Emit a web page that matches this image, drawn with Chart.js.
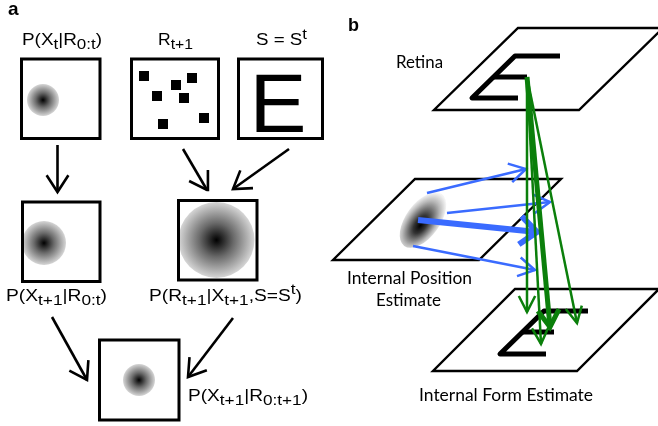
<!DOCTYPE html>
<html>
<head>
<meta charset="utf-8">
<script src="https://cdn.jsdelivr.net/npm/chart.js@4"></script>
<style>
  html, body { margin: 0; padding: 0; background: #fff; }
  #wrap { width: 658px; height: 426px; }
</style>
</head>
<body>
<div id="wrap"><canvas id="c" width="658" height="426"></canvas></div>
<script>
// ---------- Panel a: Bayesian update of the position estimate ----------
// frames as [left, top, right, bottom]
const frameBoxes = [
  [21.5, 59, 100, 138.5],
  [131.5, 59, 218.5, 138.5],
  [238.5, 59, 322.5, 138.5],
  [22.5, 202, 100, 281.5],
  [178.5, 200.5, 257, 280],
  [99.5, 340, 179, 420]
];
// probability blobs as [x, y, radius]
const blobs = [
  [43, 100, 16],
  [44, 243, 22],
  [216.5, 240, 38],
  [139, 380, 16]
];
// receptor activity pattern R(t+1)
const stimulusDots = [
  [144, 76], [176, 85], [192, 78], [157, 96], [184, 98], [204, 118], [163, 124]
];
// flow arrows as [x0, y0, x1, y1]
const flowArrows = [
  [57.5, 145, 57.5, 192],
  [183, 149, 207, 190],
  [289, 149, 233, 189],
  [52, 317, 87, 380],
  [233, 318, 188, 377]
];
const panelALabels = [
  'P(X_{t}|R_{0:t})',
  'R_{t+1}',
  'S = S^{t}',
  'P(X_{t+1}|R_{0:t})',
  'P(R_{t+1}|X_{t+1},S=S^{t})',
  'P(X_{t+1}|R_{0:t+1})'
];
const stimulusLetter = 'E';

// ---------- Panel b: retina, position estimate and form estimate ----------
const planes = [
  [[518, 28], [663, 28], [579, 110], [434, 110]],
  [[415, 179], [561, 179], [479, 260], [333, 260]],
  [[515, 289], [659, 289], [577, 371], [433, 371]]
];
const retinaE = [
  [[560, 56], [515, 56], [472, 98], [518, 98]],
  [[494, 77], [527, 77]]
];
const formE = [
  [[588, 311], [544, 311], [500, 354], [546, 354]],
  [[522, 332], [554, 332]]
];
const gazeOrigin = [527, 77];
const gazeTips = [[527, 312], [541, 344], [550, 327], [577, 323]];
const gazeWeights = [2.5, 2.5, 5, 2.5];
const positionShifts = [
  [427, 193, 526, 169],
  [447, 213, 550, 202],
  [418, 220, 537, 232],
  [413, 246, 535, 270]
];
const shiftWeights = [2.5, 2.5, 6, 2.5];
const estimateCenter = [423, 220];
const panelBLabels = ['Retina', 'Internal Position', 'Estimate', 'Internal Form Estimate'];
const panelTags = ['a', 'b'];

// ---------- helpers ----------
const pt = p => ({ x: p[0], y: p[1] });
const datasets = [];

function polyline(points, color, width, order, join) {
  datasets.push({
    data: points.map(pt),
    showLine: true,
    borderColor: color,
    borderWidth: width,
    borderJoinStyle: join || 'miter',
    borderCapStyle: 'butt',
    pointRadius: 0,
    pointHoverRadius: 0,
    fill: false,
    tension: 0,
    order: order
  });
}

function arrowHead(x0, y0, x1, y1, len, halfDeg) {
  const a = Math.atan2(y1 - y0, x1 - x0);
  const h = halfDeg * Math.PI / 180;
  return [
    [x1 - len * Math.cos(a - h), y1 - len * Math.sin(a - h)],
    [x1, y1],
    [x1 - len * Math.cos(a + h), y1 - len * Math.sin(a + h)]
  ];
}

function arrow(seg, color, width, order, len, halfDeg) {
  const [x0, y0, x1, y1] = seg;
  polyline([[x0, y0], [x1, y1]], color, width, order);
  polyline(arrowHead(x0, y0, x1, y1, len, halfDeg), color, width, order);
}

// ---------- panel a marks ----------
frameBoxes.forEach(([l, t, r, b]) =>
  polyline([[l, t], [r, t], [r, b], [l, b], [l, t], [r, t]], '#000', 3, 10));

flowArrows.forEach(s => arrow(s, '#000', 2.6, 10, 20, 33));

datasets.push({
  type: 'bubble',
  data: blobs.map(([x, y, r]) => ({ x, y, r })),
  borderWidth: 0,
  hoverRadius: 0,
  order: 12,
  backgroundColor: (c) => {
    const raw = c.raw;
    if (!raw || !c.chart.chartArea) return '#777';
    const ch = c.chart;
    const px = ch.scales.x.getPixelForValue(raw.x);
    const py = ch.scales.y.getPixelForValue(raw.y);
    if (!isFinite(px) || !isFinite(py)) return '#777';
    const g = ch.ctx.createRadialGradient(px, py, 0, px, py, raw.r);
    g.addColorStop(0, '#000');
    g.addColorStop(0.45, '#6a6a6a');
    g.addColorStop(1, '#d6d6d6');
    return g;
  }
});

datasets.push({
  data: stimulusDots.map(pt),
  showLine: false,
  pointStyle: 'rect',
  pointRadius: 7.1,
  pointHoverRadius: 7.1,
  pointBackgroundColor: '#000',
  pointBorderWidth: 0,
  order: 10
});

// ---------- panel b marks ----------
planes.forEach(p => polyline([...p, p[0], p[1]], '#000', 2.4, 50));
[...retinaE, ...formE].forEach(s => polyline(s, '#000', 5, 40, 'round'));

// fuzzy position estimate drawn as a point image
const blobCanvas = (() => {
  const cv = document.createElement('canvas');
  cv.width = 80; cv.height = 80;
  const g = cv.getContext('2d');
  g.translate(40, 40);
  g.rotate(-54 * Math.PI / 180);
  g.scale(1, 17 / 32);
  const grd = g.createRadialGradient(-6, 2, 0, -3, 0, 34);
  grd.addColorStop(0, '#000');
  grd.addColorStop(0.3, '#333');
  grd.addColorStop(0.75, '#b8b8b8');
  grd.addColorStop(1, '#f4f4f4');
  g.fillStyle = grd;
  g.beginPath();
  g.arc(0, 0, 32, 0, Math.PI * 2);
  g.fill();
  return cv;
})();

datasets.push({
  data: [pt(estimateCenter)],
  showLine: false,
  pointStyle: blobCanvas,
  pointRadius: 30,
  pointHoverRadius: 30,
  order: 35
});

const BLUE = '#3a6bff';
const GREEN = '#0b7f0b';
positionShifts.forEach((s, i) =>
  arrow(s, BLUE, shiftWeights[i], 30, shiftWeights[i] > 4 ? 22 : 19, shiftWeights[i] > 4 ? 40 : 30));
gazeTips.forEach((t, i) =>
  arrow([gazeOrigin[0], gazeOrigin[1], t[0], t[1]], GREEN, gazeWeights[i], 20,
        gazeWeights[i] > 4 ? 20 : 18, gazeWeights[i] > 4 ? 32 : 27));

// ---------- text ----------
function parseRich(s) {
  const out = [];
  let buf = '', i = 0;
  while (i < s.length) {
    const ch = s[i];
    if ((ch === '_' || ch === '^') && s[i + 1] === '{') {
      if (buf) { out.push([buf, 0]); buf = ''; }
      const j = s.indexOf('}', i);
      out.push([s.slice(i + 2, j), ch === '_' ? 1 : 2]);
      i = j + 1;
    } else { buf += ch; i++; }
  }
  if (buf) out.push([buf, 0]);
  return out;
}

function drawRich(ctx, text, left, right, base, size, family, weight, subRatio) {
  const segs = parseRich(text);
  const sr = subRatio || 0.85;
  const fontFor = k => `${weight || 'normal'} ${k ? size * sr : size}px ${family}`;
  const widths = segs.map(([t, k]) => { ctx.font = fontFor(k); return ctx.measureText(t).width; });
  const total = widths.reduce((a, b) => a + b, 0);
  const sx = right != null ? (right - left) / total : 1;
  ctx.save();
  ctx.translate(left, base);
  ctx.scale(sx, 1);
  ctx.fillStyle = '#000';
  ctx.textBaseline = 'alphabetic';
  ctx.textAlign = 'left';
  let x = 0;
  segs.forEach(([t, k], i) => {
    ctx.font = fontFor(k);
    const dy = k === 1 ? size * 0.3 : k === 2 ? -size * 0.4 : 0;
    ctx.fillText(t, x, dy);
    x += widths[i];
  });
  ctx.restore();
}

const aLayout = [[22, 102, 44.5], [158, 193, 44.5], [256, 307, 45], [6, 107, 300.5], [149, 302, 300.5], [188, 308, 400.5]];
const bLayout = [[396, 443, 68], [347, 472, 284], [376, 441, 306], [419, 593, 401]];

const textPlugin = {
  id: 'diagramText',
  afterDatasetsDraw(chart) {
    const { ctx } = chart;
    const X = v => chart.scales.x.getPixelForValue(v);
    const Y = v => chart.scales.y.getPixelForValue(v);
    panelALabels.forEach((t, i) => {
      const [l, r, b] = aLayout[i];
      drawRich(ctx, t, X(l), X(r), Y(b), 16, '"Liberation Sans", Arial, sans-serif', 'normal', 0.9);
    });
    panelBLabels.forEach((t, i) => {
      const [l, r, b] = bLayout[i];
      drawRich(ctx, t, X(l), X(r), Y(b), 16.5, 'Lato, "Open Sans", sans-serif');
    });
    drawRich(ctx, panelTags[0], X(8), null, Y(15), 19, '"Liberation Sans", Arial, sans-serif', 'bold');
    drawRich(ctx, panelTags[1], X(348), null, Y(31), 18, '"Liberation Sans", Arial, sans-serif', 'bold');

    // large stimulus letter, fitted to its ink box
    ctx.save();
    ctx.font = '80px "Liberation Sans", Arial, sans-serif';
    const m = ctx.measureText(stimulusLetter);
    const inkW = m.actualBoundingBoxLeft + m.actualBoundingBoxRight;
    const inkH = m.actualBoundingBoxAscent;
    const l = X(256), r = X(303), top = Y(75), base = Y(132);
    const sx = (r - l) / inkW, sy = (base - top) / inkH;
    ctx.translate(l + m.actualBoundingBoxLeft * sx, base);
    ctx.scale(sx, sy);
    ctx.fillStyle = '#000';
    ctx.textAlign = 'left';
    ctx.textBaseline = 'alphabetic';
    ctx.fillText(stimulusLetter, 0, 0);
    ctx.restore();
  }
};

new Chart(document.getElementById('c'), {
  type: 'scatter',
  data: { datasets },
  options: {
    responsive: false,
    animation: false,
    devicePixelRatio: 1,
    events: [],
    layout: { padding: 0, autoPadding: false },
    plugins: { legend: { display: false }, tooltip: { enabled: false } },
    scales: {
      x: { type: 'linear', min: 0, max: 658, display: false },
      y: { type: 'linear', min: 0, max: 426, reverse: true, display: false }
    }
  },
  plugins: [textPlugin]
});
</script>
</body>
</html>
